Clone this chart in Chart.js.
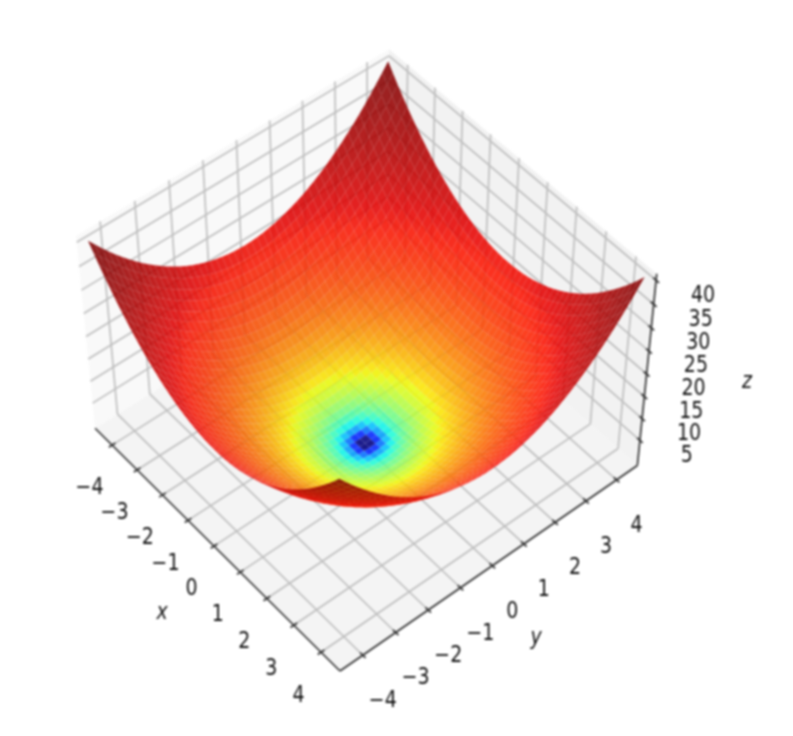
<!DOCTYPE html>
<html><head><meta charset="utf-8">
<style>html,body{margin:0;padding:0;background:#fff}canvas{display:block;filter:blur(.8px)}</style>
<script src="https://cdn.jsdelivr.net/npm/chart.js@4"></script>
</head><body><canvas id="c" width="793" height="736"></canvas>
<script>
// grid coordinates of the surface
const xValues=[-4.5,-4.32,-4.14,-3.96,-3.78,-3.6,-3.42,-3.24,-3.06,-2.88,-2.7,-2.52,-2.34,-2.16,-1.98,-1.8,-1.62,-1.44,-1.26,-1.08,-.9,-.72,-.54,-.36,-.18,0,.18,.36,.54,.72,.9,1.08,1.26,1.44,1.62,1.8,1.98,2.16,2.34,2.52,2.7,2.88,3.06,3.24,3.42,3.6,3.78,3.96,4.14,4.32,4.5];
const yValues=xValues.slice();
// z along one grid row, from the edge (|y|=4.5) to the middle (y=0); rows named by grid steps from x=0
const r0=[20.25,18.66,17.14,15.68,14.29,12.96,11.7,10.5,9.36,8.29,7.29,6.35,5.48,4.67,3.92,3.24,2.62,2.07,1.59,1.17,.81,.52,.29,.13,.03,0];
const r1=[20.28,18.69,17.17,15.71,14.32,12.99,11.73,10.53,9.39,8.32,7.32,6.38,5.51,4.7,3.95,3.27,2.65,2.1,1.62,1.2,.84,.55,.32,.16,.06,.03];
const r2=[20.38,18.79,17.27,15.81,14.42,13.09,11.83,10.63,9.49,8.42,7.42,6.48,5.61,4.8,4.05,3.37,2.75,2.2,1.72,1.3,.94,.65,.42,.26,.16,.13];
const r3=[20.54,18.95,17.43,15.97,14.58,13.25,11.99,10.79,9.65,8.58,7.58,6.64,5.77,4.96,4.21,3.53,2.91,2.36,1.88,1.46,1.1,.81,.58,.42,.32,.29];
const r4=[20.77,19.18,17.66,16.2,14.81,13.48,12.22,11.02,9.88,8.81,7.81,6.87,6,5.19,4.44,3.76,3.14,2.59,2.11,1.69,1.33,1.04,.81,.65,.55,.52];
const r5=[21.06,19.47,17.95,16.49,15.1,13.77,12.51,11.31,10.17,9.1,8.1,7.16,6.29,5.48,4.73,4.05,3.43,2.88,2.4,1.98,1.62,1.33,1.1,.94,.84,.81];
const r6=[21.42,19.83,18.31,16.85,15.46,14.13,12.87,11.67,10.53,9.46,8.46,7.52,6.65,5.84,5.09,4.41,3.79,3.24,2.76,2.34,1.98,1.69,1.46,1.3,1.2,1.17];
const r7=[21.84,20.25,18.73,17.27,15.88,14.55,13.29,12.09,10.95,9.88,8.88,7.94,7.07,6.26,5.51,4.83,4.21,3.66,3.18,2.76,2.4,2.11,1.88,1.72,1.62,1.59];
const r8=[22.32,20.73,19.21,17.75,16.36,15.03,13.77,12.57,11.43,10.36,9.36,8.42,7.55,6.74,5.99,5.31,4.69,4.14,3.66,3.24,2.88,2.59,2.36,2.2,2.1,2.07];
const r9=[22.87,21.28,19.76,18.3,16.91,15.58,14.32,13.12,11.98,10.91,9.91,8.97,8.1,7.29,6.54,5.86,5.24,4.69,4.21,3.79,3.43,3.14,2.91,2.75,2.65,2.62];
const r10=[23.49,21.9,20.38,18.92,17.53,16.2,14.94,13.74,12.6,11.53,10.53,9.59,8.72,7.91,7.16,6.48,5.86,5.31,4.83,4.41,4.05,3.76,3.53,3.37,3.27,3.24];
const r11=[24.17,22.58,21.06,19.6,18.21,16.88,15.62,14.42,13.28,12.21,11.21,10.27,9.4,8.59,7.84,7.16,6.54,5.99,5.51,5.09,4.73,4.44,4.21,4.05,3.95,3.92];
const r12=[24.92,23.33,21.81,20.35,18.96,17.63,16.37,15.17,14.03,12.96,11.96,11.02,10.15,9.34,8.59,7.91,7.29,6.74,6.26,5.84,5.48,5.19,4.96,4.8,4.7,4.67];
const r13=[25.73,24.14,22.62,21.16,19.77,18.44,17.18,15.98,14.84,13.77,12.77,11.83,10.96,10.15,9.4,8.72,8.1,7.55,7.07,6.65,6.29,6,5.77,5.61,5.51,5.48];
const r14=[26.6,25.01,23.49,22.03,20.64,19.31,18.05,16.85,15.71,14.64,13.64,12.7,11.83,11.02,10.27,9.59,8.97,8.42,7.94,7.52,7.16,6.87,6.64,6.48,6.38,6.35];
const r15=[27.54,25.95,24.43,22.97,21.58,20.25,18.99,17.79,16.65,15.58,14.58,13.64,12.77,11.96,11.21,10.53,9.91,9.36,8.88,8.46,8.1,7.81,7.58,7.42,7.32,7.29];
const r16=[28.54,26.95,25.43,23.97,22.58,21.25,19.99,18.79,17.65,16.58,15.58,14.64,13.77,12.96,12.21,11.53,10.91,10.36,9.88,9.46,9.1,8.81,8.58,8.42,8.32,8.29];
const r17=[29.61,28.02,26.5,25.04,23.65,22.32,21.06,19.86,18.72,17.65,16.65,15.71,14.84,14.03,13.28,12.6,11.98,11.43,10.95,10.53,10.17,9.88,9.65,9.49,9.39,9.36];
const r18=[30.75,29.16,27.64,26.18,24.79,23.46,22.2,21,19.86,18.79,17.79,16.85,15.98,15.17,14.42,13.74,13.12,12.57,12.09,11.67,11.31,11.02,10.79,10.63,10.53,10.5];
const r19=[31.95,30.36,28.84,27.38,25.99,24.66,23.4,22.2,21.06,19.99,18.99,18.05,17.18,16.37,15.62,14.94,14.32,13.77,13.29,12.87,12.51,12.22,11.99,11.83,11.73,11.7];
const r20=[33.21,31.62,30.1,28.64,27.25,25.92,24.66,23.46,22.32,21.25,20.25,19.31,18.44,17.63,16.88,16.2,15.58,15.03,14.55,14.13,13.77,13.48,13.25,13.09,12.99,12.96];
const r21=[34.54,32.95,31.43,29.97,28.58,27.25,25.99,24.79,23.65,22.58,21.58,20.64,19.77,18.96,18.21,17.53,16.91,16.36,15.88,15.46,15.1,14.81,14.58,14.42,14.32,14.29];
const r22=[35.93,34.34,32.82,31.36,29.97,28.64,27.38,26.18,25.04,23.97,22.97,22.03,21.16,20.35,19.6,18.92,18.3,17.75,17.27,16.85,16.49,16.2,15.97,15.81,15.71,15.68];
const r23=[37.39,35.8,34.28,32.82,31.43,30.1,28.84,27.64,26.5,25.43,24.43,23.49,22.62,21.81,21.06,20.38,19.76,19.21,18.73,18.31,17.95,17.66,17.43,17.27,17.17,17.14];
const r24=[38.91,37.32,35.8,34.34,32.95,31.62,30.36,29.16,28.02,26.95,25.95,25.01,24.14,23.33,22.58,21.9,21.28,20.73,20.25,19.83,19.47,19.18,18.95,18.79,18.69,18.66];
const r25=[40.5,38.91,37.39,35.93,34.54,33.21,31.95,30.75,29.61,28.54,27.54,26.6,25.73,24.92,24.17,23.49,22.87,22.32,21.84,21.42,21.06,20.77,20.54,20.38,20.28,20.25];
const halfRows=[r25,r24,r23,r22,r21,r20,r19,r18,r17,r16,r15,r14,r13,r12,r11,r10,r9,r8,r7,r6,r5,r4,r3,r2,r1,r0,r1,r2,r3,r4,r5,r6,r7,r8,r9,r10,r11,r12,r13,r14,r15,r16,r17,r18,r19,r20,r21,r22,r23,r24,r25];
const zValues=halfRows.map(r=>r.concat(r.slice(0,-1).reverse()));
// ticks
const xTicks=[-4,-3,-2,-1,0,1,2,3,4];
const yTicks=[-4,-3,-2,-1,0,1,2,3,4];
const zTicks=[5,10,15,20,25,30,35,40];

// view
const ELEV=50*Math.PI/180, AZIM=-40*Math.PI/180, DIST=10, FOCAL=3344, CX=365, CY=354;
const SIDE=1.1428, ZSIDE=.8571;
const LIMX=4.5, ZMAX=40.5, PX=4.6875, PZ0=-.84375, PZ1=41.34375;
const se=Math.sin(ELEV),ce=Math.cos(ELEV),sa=Math.sin(AZIM),ca=Math.cos(AZIM);
function proj(x,y,z){
  const X=x/(2*LIMX)*SIDE, Y=y/(2*LIMX)*SIDE, Z=(z/ZMAX-.5)*ZSIDE;
  const u=-sa*X+ca*Y, v=-se*ca*X-se*sa*Y+ce*Z, w=ce*ca*X+ce*sa*Y+se*Z, d=DIST-w;
  return {x:CX+FOCAL*u/d, y:CY-FOCAL*v/d, d};
}
// jet colormap on a log norm, with a light shading
function seg(t,p){for(let i=1;i<p.length;i++)if(t<=p[i][0]){const a=p[i-1],b=p[i];return a[1]+(b[1]-a[1])*(t-a[0])/(b[0]-a[0]);}return p[p.length-1][1];}
const JR=[[0,0],[.35,0],[.66,1],[.89,1],[1,.5]],JG=[[0,0],[.125,0],[.375,1],[.64,1],[.91,0],[1,0]],JB=[[0,.5],[.11,1],[.34,1],[.65,0],[1,0]];
const VMIN=.03, ALPHA=.87;
function color(z,shade){
  const t=Math.min(1,Math.max(0,Math.log(Math.max(z,VMIN)/VMIN)/Math.log(ZMAX/VMIN)));
  const c=p=>Math.round(Math.min(1,seg(t,p)*shade)*255);
  return `rgba(${c(JR)},${c(JG)},${c(JB)},${ALPHA})`;
}
const ds=[];
function poly(pts,fillC){ds.push({data:pts.concat([pts[0]]).map(p=>({x:p.x,y:p.y})),showLine:true,fill:'shape',backgroundColor:fillC,borderColor:'rgba(0,0,0,0)',borderWidth:0,pointRadius:0,tension:0});}
function line(a,b,col,w){ds.push({data:[{x:a.x,y:a.y},{x:b.x,y:b.y}],showLine:true,fill:false,borderColor:col,borderWidth:w,pointRadius:0,tension:0});}
// panes
poly([proj(-PX,-PX,PZ0),proj(PX,-PX,PZ0),proj(PX,PX,PZ0),proj(-PX,PX,PZ0)],'#f4f4f4');
poly([proj(-PX,-PX,PZ0),proj(-PX,PX,PZ0),proj(-PX,PX,PZ1),proj(-PX,-PX,PZ1)],'#f9f9f9');
poly([proj(-PX,PX,PZ0),proj(PX,PX,PZ0),proj(PX,PX,PZ1),proj(-PX,PX,PZ1)],'#f2f2f2');
// grid
const GC='#bfbfbf',GW=1.7;
xTicks.forEach(t=>{line(proj(t,-PX,PZ0),proj(t,PX,PZ0),GC,GW);line(proj(t,PX,PZ0),proj(t,PX,PZ1),GC,GW);});
yTicks.forEach(t=>{line(proj(PX,t,PZ0),proj(-PX,t,PZ0),GC,GW);line(proj(-PX,t,PZ0),proj(-PX,t,PZ1),GC,GW);});
zTicks.forEach(t=>{line(proj(-PX,-PX,t),proj(-PX,PX,t),GC,GW);line(proj(-PX,PX,t),proj(PX,PX,t),GC,GW);});
// axes
const AC='#333',AW=1.7,TK=.1;
line(proj(-PX,-PX,PZ0),proj(PX,-PX,PZ0),AC,AW);
line(proj(PX,-PX,PZ0),proj(PX,PX,PZ0),AC,AW);
line(proj(PX,PX,PZ0),proj(PX,PX,PZ1),AC,AW);
xTicks.forEach(t=>line(proj(t,-PX-TK,PZ0),proj(t,-PX+TK,PZ0),AC,AW));
yTicks.forEach(t=>line(proj(PX+TK,t,PZ0),proj(PX-TK,t,PZ0),AC,AW));
zTicks.forEach(t=>line(proj(PX-TK,PX,t),proj(PX+TK,PX,t),AC,AW));
// surface cells, far to near
const cells=[];
for(let i=0;i<xValues.length-1;i++)for(let j=0;j<yValues.length-1;j++){
  const zs=[zValues[i][j],zValues[i+1][j],zValues[i+1][j+1],zValues[i][j+1]];
  const pts=[proj(xValues[i],yValues[j],zs[0]),proj(xValues[i+1],yValues[j],zs[1]),proj(xValues[i+1],yValues[j+1],zs[2]),proj(xValues[i],yValues[j+1],zs[3])];
  const dx=xValues[i+1]-xValues[i], dy=yValues[j+1]-yValues[j];
  const gx=(zs[1]+zs[2]-zs[0]-zs[3])/(2*dx), gy=(zs[2]+zs[3]-zs[0]-zs[1])/(2*dy);
  const nz=1/Math.hypot(gx,gy,1);
  const side=(xValues[i]+xValues[i+1]+yValues[j]+yValues[j+1])/18;
  const shade=1-.03*(1-nz)+.03*side;
  cells.push({pts,depth:(pts[0].d+pts[1].d+pts[2].d+pts[3].d)/4,col:color((zs[0]+zs[1]+zs[2]+zs[3])/4,shade)});
}
cells.sort((a,b)=>b.depth-a.depth).forEach(c=>poly(c.pts,c.col));

const TEXT_STRETCH=1.18;
const labels={id:'labels',afterDraw(ch){
  const g=ch.ctx,sx=ch.scales.x,sy=ch.scales.y;
  g.save();g.fillStyle='#111';g.textAlign='center';g.textBaseline='middle';
  const draw=(s,px,py)=>{g.save();g.translate(px,py);g.scale(1,TEXT_STRETCH);g.fillText(s,0,0);g.restore();};
  g.font='19px "DejaVu Sans"';
  const put=(s,p,ox,oy)=>draw(s,sx.getPixelForValue(p.x)+ox,sy.getPixelForValue(p.y)+oy);
  const f=v=>String(v).replace('-','\u2212');
  xTicks.forEach(t=>put(f(t),proj(t,-PX,PZ0),-22.5,43.5));
  yTicks.forEach(t=>put(f(t),proj(PX,t,PZ0),20,46));
  zTicks.forEach(t=>put(f(t),proj(PX,PX,t),47,15.5));
  g.font='italic 19px "DejaVu Sans"';
  draw('x',sx.getPixelForValue(162),sy.getPixelForValue(613));
  draw('y',sx.getPixelForValue(536),sy.getPixelForValue(638));
  draw('z',sx.getPixelForValue(747),sy.getPixelForValue(382));
  g.restore();
}};
// Chart.js paints the first dataset last, so the far-to-near list is reversed
new Chart(document.getElementById('c'),{type:'scatter',data:{datasets:ds.reverse()},plugins:[labels],options:{
  responsive:false,animation:false,layout:{padding:0},events:[],
  scales:{x:{type:'linear',display:false,min:0,max:793},y:{type:'linear',display:false,min:0,max:736,reverse:true}},
  plugins:{legend:{display:false},tooltip:{enabled:false},title:{display:false},filler:{drawTime:'beforeDatasetDraw',propagate:false}}
}});
</script></body></html>
